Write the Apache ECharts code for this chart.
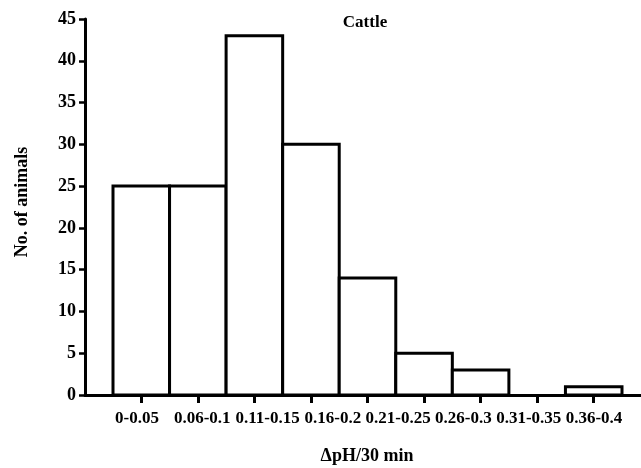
<!DOCTYPE html>
<html>
<head>
<meta charset="utf-8">
<script src="https://cdn.jsdelivr.net/npm/echarts@6/dist/echarts.min.js"></script>
<style>html,body{margin:0;padding:0;background:#fff;}#c{width:641px;height:468px;}</style>
</head>
<body>
<div id="c"></div>
<script>
// Category labels shown under the axis (8 labels)
const categories = ['0-0.05','0.06-0.1','0.11-0.15','0.16-0.2','0.21-0.25','0.26-0.3','0.31-0.35','0.36-0.4'];
// Histogram bins (9 bars, one empty)
const bins = ['b1','b2','b3','b4','b5','b6','b7','b8','b9'];
const counts = [25, 25, 43, 30, 14, 5, 3, 0, 1];
// Y axis range
const yMin = 0, yMax = 45, yStep = 5;

const F = '"Liberation Serif", "Times New Roman", serif';
const chart = echarts.init(document.getElementById('c'), null, {renderer: 'canvas'});
const yBase = {type:'value', min:yMin, max:yMax, interval:yStep};
chart.setOption({
  animation: false,
  backgroundColor: '#fff',
  grid: [
    {left:85, right:0, top:19, bottom:73},
    {left:113, right:19, top:19, bottom:73},
    {left:137, right:47, top:19, bottom:73}
  ],
  xAxis: [
    {gridIndex:0, type:'value', min:0, max:1, axisLine:{show:true, lineStyle:{color:'#000', width:3}},
     axisTick:{show:false}, axisLabel:{show:false}, splitLine:{show:false}},
    {gridIndex:1, type:'category', data:bins, boundaryGap:true, axisLine:{show:false},
     axisTick:{show:true, alignWithLabel:true, length:8, lineStyle:{color:'#000', width:3}},
     axisLabel:{show:false}, splitLine:{show:false}},
    {gridIndex:2, type:'category', data:categories, boundaryGap:false, axisLine:{show:false},
     axisTick:{show:false}, splitLine:{show:false},
     axisLabel:{show:true, interval:0, margin:15, color:'#000', fontFamily:F, fontWeight:'bold', fontSize:17}}
  ],
  yAxis: [
    Object.assign({gridIndex:0, axisLine:{show:true, lineStyle:{color:'#000', width:3}},
     axisTick:{show:true, length:6, lineStyle:{color:'#000', width:2.5}},
     axisLabel:{show:true, margin:9, color:'#000', fontFamily:F, fontWeight:'bold', fontSize:18},
     splitLine:{show:false}}, yBase),
    Object.assign({gridIndex:1, show:false, splitLine:{show:false}}, yBase),
    Object.assign({gridIndex:2, show:false, splitLine:{show:false}}, yBase)
  ],
  series: [{
    type:'custom', xAxisIndex:1, yAxisIndex:1,
    data: counts.map((v, i) => [i, v]),
    encode: {x:0, y:1},
    renderItem: function (params, api) {
      const v = api.value(1);
      if (!v) return null;
      const top = api.coord([api.value(0), v]);
      const base = api.coord([api.value(0), 0]);
      const w = api.size([1, 0])[0];
      return {
        type:'rect',
        shape:{x: top[0] - w / 2, y: top[1], width: w, height: base[1] - top[1]},
        style:{fill:'#fff', stroke:'#000', lineWidth:3}
      };
    }
  }],
  graphic: [
    {type:'text', x:22, y:202, rotation:Math.PI/2,
     style:{text:'No. of animals', font:'bold 18px ' + F, align:'center', verticalAlign:'middle', fill:'#000'}},
    {type:'text', x:367, y:456,
     style:{text:'ΔpH/30 min', font:'bold 18px ' + F, align:'center', verticalAlign:'middle', fill:'#000'}},
    {type:'text', x:365, y:23,
     style:{text:'Cattle', font:'bold 17px ' + F, align:'center', verticalAlign:'middle', fill:'#000'}}
  ]
});
</script>
</body>
</html>
